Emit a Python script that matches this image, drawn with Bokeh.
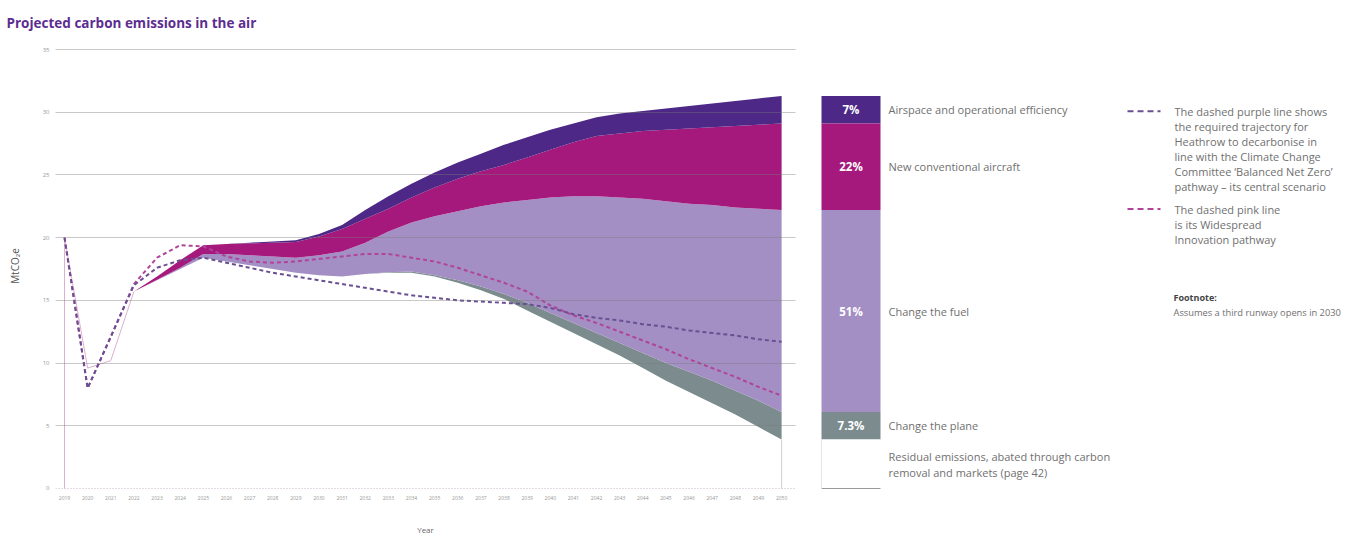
from bokeh.plotting import figure
from bokeh.layouts import row
from bokeh.models import Range1d, FixedTicker, Span
from bokeh.embed import file_html
from bokeh.resources import INLINE
from bokeh.core.properties import value

# ---------------- data ----------------
hist_years = [2019, 2019, 2020, 2021, 2022]
hist_values = [0, 20, 9.6, 10.2, 15.7]

path_years = list(range(2019, 2051))
balanced_net_zero = [20, 8.0, 12.1, 16.2, 17.6, 18.2, 18.4, 18.0, 17.6, 17.2, 16.9, 16.6,
                     16.3, 16.0, 15.7, 15.4, 15.2, 15.0, 14.9, 14.8, 14.7, 14.4, 13.9,
                     13.6, 13.4, 13.1, 12.9, 12.6, 12.4, 12.2, 11.9, 11.7]
widespread_innovation = [20, 8.0, 12.1, 16.3, 18.4, 19.4, 19.3, 18.5, 18.1, 18.0, 18.1, 18.3,
                         18.5, 18.7, 18.7, 18.4, 18.1, 17.6, 17.0, 16.4, 15.7, 14.6, 13.8,
                         13.2, 12.5, 11.8, 11.1, 10.3, 9.6, 8.9, 8.1, 7.4]

area_years = list(range(2022, 2051))
residual = [15.7, 16.6, 17.5, 18.4, 18.1, 17.8, 17.5, 17.2, 17.0, 16.9, 17.1, 17.2, 17.2,
            16.9, 16.4, 15.8, 15.1, 14.2, 13.3, 12.4, 11.5, 10.6, 9.6, 8.6, 7.7, 6.8,
            5.9, 4.9, 3.9]
change_plane_top = [15.7, 16.6, 17.5, 18.4, 18.1, 17.8, 17.5, 17.2, 17.0, 16.9, 17.1, 17.25,
                    17.3, 17.0, 16.6, 16.1, 15.5, 14.8, 14.0, 13.2, 12.4, 11.6, 10.8, 10.0,
                    9.3, 8.6, 7.8, 7.0, 6.1]
change_fuel_top = [15.7, 16.65, 17.6, 18.7, 18.7, 18.6, 18.5, 18.4, 18.6, 18.9, 19.6, 20.5,
                   21.2, 21.7, 22.1, 22.5, 22.8, 23.0, 23.2, 23.3, 23.3, 23.2, 23.1, 22.9,
                   22.7, 22.6, 22.4, 22.3, 22.2]
new_aircraft_top = [15.7, 16.9, 18.2, 19.4, 19.5, 19.55, 19.6, 19.65, 20.1, 20.7, 21.5, 22.3,
                    23.2, 24.0, 24.7, 25.3, 25.8, 26.4, 27.0, 27.6, 28.1, 28.3, 28.5, 28.6,
                    28.7, 28.8, 28.9, 29.0, 29.1]
airspace_top = [15.7, 16.9, 18.2, 19.4, 19.5, 19.6, 19.7, 19.8, 20.3, 21.0, 22.2, 23.3, 24.3,
                25.2, 26.0, 26.7, 27.4, 28.0, 28.6, 29.1, 29.6, 29.9, 30.1, 30.3, 30.5, 30.7,
                30.9, 31.1, 31.3]

y_ticks = [0, 5, 10, 15, 20, 25, 30, 35]
x_ticks = list(range(2019, 2051))

segment_labels = ["Airspace and operational efficiency", "New conventional aircraft",
                  "Change the fuel", "Change the plane"]
segment_shares = ["7%", "22%", "51%", "7.3%"]
residual_label = ["Residual emissions, abated through carbon", "removal and markets (page 42)"]

purple_note = ["The dashed purple line shows", "the required trajectory for",
               "Heathrow to decarbonise in", "line with the Climate Change",
               "Committee \u2018Balanced Net Zero\u2019", "pathway \u2013 its central scenario"]
pink_note = ["The dashed pink line", "is its Widespread", "Innovation pathway"]
footnote = ["Footnote:", "Assumes a third runway opens in 2030"]

# ---------------- styles ----------------
C_AIR = "#4d2886"
C_NEW = "#a5197d"
C_FUEL = "#a38fc4"
C_PLANE = "#7c8c8e"
C_PURPLE_DASH = "#6a4f92"
C_PINK_DASH = "#b0449a"
C_TEXT = "#707070"
FONT = "Open Sans"
LEG_SIZE = "11px"

YR = Range1d(-0.24, 35.72)

p = figure(width=800, height=537, output_backend="svg", toolbar_location=None,
           x_range=Range1d(2018.61, 2050.6), y_range=YR,
           min_border_left=55, min_border_right=5, min_border_top=40, min_border_bottom=45)
p.outline_line_color = None

# stacked areas
p.varea(x=area_years, y1=residual, y2=change_plane_top, fill_color=C_PLANE)
p.varea(x=area_years, y1=change_plane_top, y2=change_fuel_top, fill_color=C_FUEL)
p.varea(x=area_years, y1=change_fuel_top, y2=new_aircraft_top, fill_color=C_NEW)
p.varea(x=area_years, y1=new_aircraft_top, y2=airspace_top, fill_color=C_AIR)

# historical thin line
p.line(hist_years, hist_values, line_color="#dcb0d0", line_width=1)
# residual right edge
p.segment(x0=[area_years[-1]], y0=[0], x1=[area_years[-1]], y1=[residual[-1]],
          line_color="#cfcfcf", line_width=1)

# dashed pathways
p.line(path_years, widespread_innovation, line_color=C_PINK_DASH, line_width=2,
       line_dash="4 3")
p.line(path_years, balanced_net_zero, line_color=C_PURPLE_DASH, line_width=2,
       line_dash="4 3")

# grid (on top, translucent)
p.xgrid.visible = False
p.ygrid.ticker = FixedTicker(ticks=y_ticks[1:])
p.ygrid.grid_line_color = "#777777"
p.ygrid.grid_line_alpha = 0.4
p.ygrid.level = "overlay"
p.add_layout(Span(location=y_ticks[0], dimension="width", line_color="#c9b7c9",
                  line_dash="1 2", line_width=1))

# axes
for ax in (p.xaxis[0], p.yaxis[0]):
    ax.axis_line_color = None
    ax.major_tick_line_color = None
    ax.minor_tick_line_color = None
    ax.major_tick_out = 0
    ax.major_tick_in = 0
    ax.minor_tick_out = 0
    ax.minor_tick_in = 0
    ax.major_label_text_font = FONT
    ax.major_label_text_color = "#999999"
    ax.axis_label_text_font = FONT
    ax.axis_label_text_font_style = "normal"

p.yaxis.ticker = FixedTicker(ticks=y_ticks)
p.yaxis.major_label_text_font_size = "6px"
p.yaxis.major_label_standoff = 6
p.yaxis.axis_label = "MtCO\u2082e"
p.yaxis.axis_label_text_font_size = "10px"
p.yaxis.axis_label_text_color = "#555555"
p.yaxis.axis_label_standoff = 18

p.xaxis.ticker = FixedTicker(ticks=x_ticks)
p.xaxis.major_label_text_font_size = "5px"
p.xaxis.major_label_standoff = 4
p.xaxis.axis_label = "Year"
p.xaxis.axis_label_text_font_size = "8px"
p.xaxis.axis_label_text_color = "#666666"
p.xaxis.axis_label_standoff = 21

p.title.text = "Projected carbon emissions in the air"
p.title.text_font = FONT
p.title.text_font_size = "13.5px"
p.title.text_font_style = "bold"
p.title.text_color = "#5c2d91"
p.title.align = "left"
p.title.offset = -49
p.title.standoff = 17

# ---------------- legend panel ----------------
q = figure(width=546, height=537, output_backend="svg", toolbar_location=None,
           x_range=Range1d(0, 546), y_range=YR, x_axis_location=None, y_axis_location=None,
           min_border_left=0, min_border_right=0, min_border_top=40, min_border_bottom=45)
q.outline_line_color = None
q.grid.visible = False

def sy(px):
    return (489 - px) / 12.57

bar_left, bar_right = 21, 80
last = -1
bottoms = [new_aircraft_top[last], change_fuel_top[last], change_plane_top[last], residual[last]]
tops = [airspace_top[last], new_aircraft_top[last], change_fuel_top[last], change_plane_top[last]]
colors = [C_AIR, C_NEW, C_FUEL, C_PLANE]
q.quad(left=bar_left, right=bar_right, bottom=bottoms, top=tops, fill_color=colors,
       line_color=None)
q.quad(left=[bar_left], right=[bar_right], bottom=[0], top=[residual[last]],
       fill_color="white", line_color=None)
q.segment(x0=[bar_left], y0=[0], x1=[bar_right], y1=[0], line_color="#9a9a9a", line_width=1.2)
q.segment(x0=[bar_left], y0=[0], x1=[bar_left], y1=[residual[last]], line_color="#e6e6e6",
          line_width=1)

mids = [(b + t) / 2 for b, t in zip(bottoms, tops)]
q.text(x=[(bar_left + bar_right) / 2] * 4, y=mids, text=segment_shares, text_color="white",
       text_font=value(FONT), text_font_style="bold", text_font_size="11.5px",
       text_align="center", text_baseline="middle")
q.text(x=[88] * 4, y=mids, text=segment_labels, text_color=C_TEXT, text_font=value(FONT),
       text_font_size=LEG_SIZE, text_align="left", text_baseline="middle")
res_mid = residual[last] / 2
q.text(x=[88, 88], y=[res_mid, res_mid], y_offset=[-8, 8], text=residual_label,
       text_color=C_TEXT, text_font=value(FONT), text_font_size=LEG_SIZE, text_align="left",
       text_baseline="middle")

# dashed-line notes
q.segment(x0=[327], y0=[sy(111)], x1=[360], y1=[sy(111)], line_color=C_PURPLE_DASH,
          line_width=2, line_dash="6 4")
q.segment(x0=[327], y0=[sy(209)], x1=[360], y1=[sy(209)], line_color=C_PINK_DASH,
          line_width=2, line_dash="6 4")
q.text(x=[374] * len(purple_note), y=[sy(111 + 15 * i) for i in range(len(purple_note))],
       text=purple_note, text_color=C_TEXT, text_font=value(FONT), text_font_size=LEG_SIZE,
       text_baseline="middle")
q.text(x=[374] * len(pink_note), y=[sy(209 + 15 * i) for i in range(len(pink_note))],
       text=pink_note, text_color=C_TEXT, text_font=value(FONT), text_font_size=LEG_SIZE,
       text_baseline="middle")
q.text(x=[373], y=[sy(298)], text=[footnote[0]], text_color="#444444", text_font=value(FONT),
       text_font_style="bold", text_font_size="9px", text_baseline="middle")
q.text(x=[373], y=[sy(313)], text=[footnote[1]], text_color=C_TEXT, text_font=value(FONT),
       text_font_size="9.3px", text_baseline="middle")

layout = row(p, q)
open("out.html", "w").write(file_html(layout, INLINE))
